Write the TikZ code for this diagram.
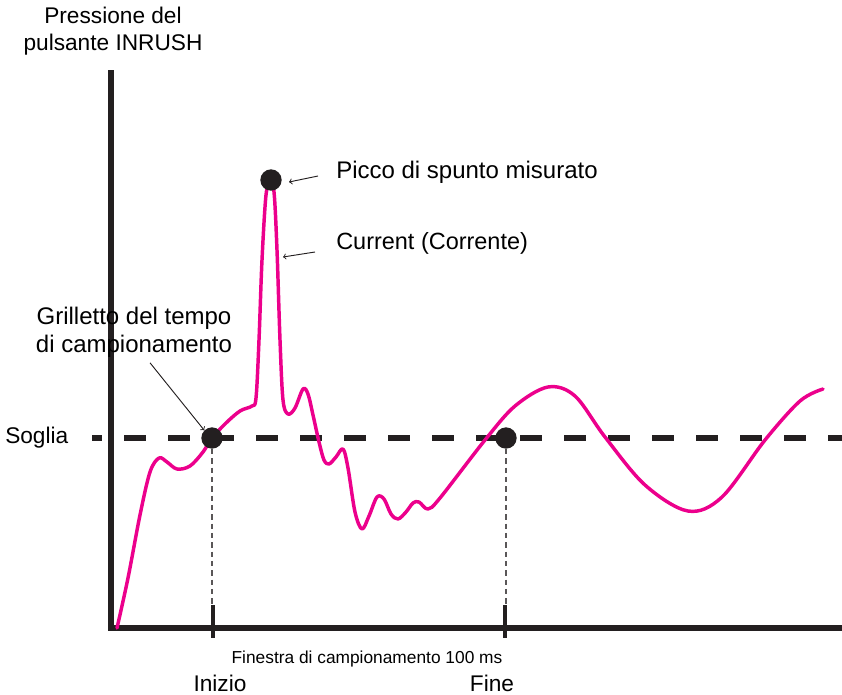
\documentclass[tikz,border=0pt]{standalone}
\usepackage{fontspec}
\setmainfont{Liberation Sans}
\definecolor{ink}{RGB}{35,31,32}
\definecolor{pink}{RGB}{236,0,140}
\tikzset{
  axis/.style={draw=ink, line width=4.8pt, line join=miter},
  tickmark/.style={draw=ink, line width=2.5pt},
  soglia/.style={draw=ink, line width=5pt, dash pattern=on 16.5pt off 16.5pt, dash phase=9pt},
  guide/.style={draw=ink!75, line width=0.9pt, dash pattern=on 4pt off 3pt},
  signal/.style={draw=pink, line width=2.6pt, line cap=round, line join=round},
  dot/.style={circle, fill=ink, inner sep=0pt, minimum size=16pt},
  lbl/.style={font=\fontsize{17}{20}\selectfont, inner sep=0pt, align=center},
  biglbl/.style={font=\fontsize{18}{21}\selectfont, inner sep=0pt, align=center},
  small/.style={font=\fontsize{13}{15}\selectfont, inner sep=0pt},
  pointer/.style={draw=ink, line width=0.7pt, ->},
}
\begin{document}
\begin{tikzpicture}[x=0.75pt,y=-0.75pt]
   \useasboundingbox (0,0) rectangle (842,694);

   % axes
   \coordinate (top) at (111,70) ;
   \coordinate (origin) at (111,628) ;
   \coordinate (xend) at (842,628) ;
   \draw[axis] (top) -- (origin) -- (xend) ;

   % threshold
   \coordinate (s0) at (92,438) ;
   \coordinate (s1) at (842,438) ;
   \draw[soglia] (s0) -- (s1) ;

   % current
   \draw[signal] plot[smooth, tension=0.55] coordinates {
     (117,628) (128,578) (140,515) (150,472) (159,458) (167,462) (177,469)
     (190,466) (203,452) (212,438) (226,423) (240,411) (252,406) (256,398)
     (259,340) (262,260) (266,195) (270,185) (274,192) (277,250) (280,340)
     (283,400) (288,414) (295,408) (303,389) (308,394) (313,415) (319,442)
     (324,460) (329,464) (336,457) (343,449) (348,468) (355,512) (362,529)
     (369,516) (377,497) (384,499) (391,514) (398,519) (406,512) (413,503)
     (419,502) (428,509) (440,498) (485,440) (515,406) (548,387) (575,396)
     (605,437) (645,485) (688,511) (722,497) (765,440) (800,401) (823,389)
   } ;

   % markers
   \node[dot] (trig) at (212,438) {} ;
   \node[dot] (fine) at (506,438) {} ;
   \node[dot] (peak) at (271,180) {} ;
   \coordinate (cur) at (283,257) ;
   \coordinate (peaktip) at (289,182) ;
   \draw[guide] (trig) -- (trig |- origin) ;
   \draw[guide] (fine) -- (fine |- origin) ;
   \coordinate (t1) at (213,605) ;
   \coordinate (t2) at (505,605) ;
   \draw[tickmark] (t1) -- ++(0,33) ;
   \draw[tickmark] (t2) -- ++(0,33) ;

   % labels
   \node[lbl] (ylabel) at (113,31) {Pressione del\\pulsante INRUSH} ;
   \node[biglbl] (grill) at (134,332) {Grilletto del tempo\\di campionamento} ;
   \node[lbl, anchor=west] (thr) at (5,438) {Soglia} ;
   \node[biglbl, anchor=west] (picco) at (336,172) {Picco di spunto misurato} ;
   \node[biglbl, font=\fontsize{17.6}{20}\selectfont, anchor=west] (curr) at (336,243) {Current (Corrente)} ;
   \node[small] (win) at (367,659) {Finestra di campionamento 100 ms} ;
   \node[lbl] (inizio) at (220,683) {Inizio} ;
   \node[lbl] (fin) at (492,683) {Fine} ;

   \draw[pointer] ([xshift=-13.5pt,yshift=-3pt]picco.west) -- (peaktip) ;
   \draw[pointer] ([xshift=-15.75pt,yshift=-6.75pt]curr.west) -- (cur) ;
   \draw[pointer] ([xshift=12pt,yshift=-4pt]grill.south) -- (trig.north west) ;

\end{tikzpicture}
\end{document}
